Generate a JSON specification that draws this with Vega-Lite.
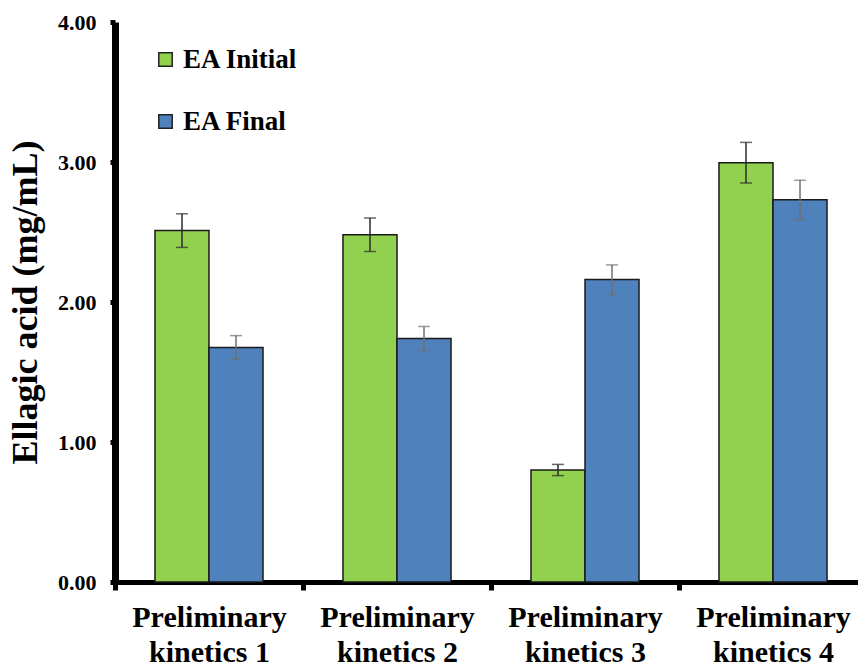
{
  "$schema": "https://vega.github.io/schema/vega-lite/v6.json",
  "width": 743,
  "height": 560,
  "autosize": "none",
  "padding": {"left": 115, "top": 22, "right": 0, "bottom": 86},
  "background": "white",
  "config": {
    "view": {"stroke": null},
    "font": "Times New Roman, Liberation Serif, serif",
    "axis": {"labelFont": "Times New Roman, Liberation Serif, serif", "titleFont": "Times New Roman, Liberation Serif, serif", "labelColor": "#000", "titleColor": "#000"},
    "legend": {"labelFont": "Times New Roman, Liberation Serif, serif"}
  },
  "data": {
    "values": [
      {"cat": "Preliminary kinetics 1", "series": "EA Initial", "value": 2.51, "lo": 2.39, "hi": 2.63},
      {"cat": "Preliminary kinetics 1", "series": "EA Final", "value": 1.675, "lo": 1.59, "hi": 1.76},
      {"cat": "Preliminary kinetics 2", "series": "EA Initial", "value": 2.48, "lo": 2.36, "hi": 2.6},
      {"cat": "Preliminary kinetics 2", "series": "EA Final", "value": 1.74, "lo": 1.655, "hi": 1.825},
      {"cat": "Preliminary kinetics 3", "series": "EA Initial", "value": 0.8, "lo": 0.76, "hi": 0.84},
      {"cat": "Preliminary kinetics 3", "series": "EA Final", "value": 2.16, "lo": 2.055, "hi": 2.265},
      {"cat": "Preliminary kinetics 4", "series": "EA Initial", "value": 2.995, "lo": 2.85, "hi": 3.14},
      {"cat": "Preliminary kinetics 4", "series": "EA Final", "value": 2.73, "lo": 2.59, "hi": 2.87}
    ]
  },
  "encoding": {
    "x": {
      "field": "cat", "type": "nominal", "sort": null,
      "scale": {"range": [0, 752], "paddingInner": 0, "paddingOuter": 0},
      "axis": {
        "title": null,
        "labelAngle": 0,
        "tickBand": "extent",
        "labelExpr": "[substring(datum.label, 0, 11), substring(datum.label, 12)]",
        "labelFont": "Times New Roman, Liberation Serif, serif",
        "labelFontSize": 30,
        "labelFontWeight": "bold",
        "labelLineHeight": 35,
        "labelPadding": 12,
        "labelBaseline": "top",
        "domainColor": "#000",
        "domainWidth": 5,
        "tickColor": "#000",
        "tickWidth": 5,
        "tickSize": 8,
        "grid": false
      }
    },
    "xOffset": {
      "field": "series", "type": "nominal", "sort": ["EA Initial", "EA Final"],
      "scale": {"paddingInner": 0, "paddingOuter": 0.74}
    }
  },
  "layer": [
    {
      "mark": {"type": "bar", "stroke": "#1a1a1a", "strokeWidth": 1.5},
      "encoding": {
        "y": {
          "field": "value", "type": "quantitative",
          "scale": {"domain": [0, 4], "nice": false},
          "axis": {
            "title": "Ellagic acid (mg/mL)",
            "titleFont": "Times New Roman, Liberation Serif, serif",
            "titleFontSize": 36,
            "titleFontWeight": "bold",
            "titlePadding": 13,
            "values": [0, 1, 2, 3, 4],
            "format": ".2f",
            "labelFont": "Times New Roman, Liberation Serif, serif",
            "labelFontSize": 22,
            "labelFontWeight": "bold",
            "labelPadding": 14,
            "domainColor": "#000",
            "domainWidth": 7,
            "tickColor": "#000",
            "tickWidth": 5,
            "tickSize": 5,
            "grid": false
          }
        },
        "color": {
          "field": "series", "type": "nominal",
          "scale": {"domain": ["EA Initial", "EA Final"], "range": ["#92D050", "#4F81BD"]},
          "legend": {
            "title": null,
            "orient": "none",
            "legendX": 37,
            "legendY": 24,
            "symbolType": "square",
            "symbolSize": 180,
            "symbolStrokeColor": "#222",
            "symbolStrokeWidth": 1.5,
            "symbolOpacity": 1,
            "labelFont": "Times New Roman, Liberation Serif, serif",
            "labelFontSize": 27,
            "labelFontWeight": "bold",
            "labelColor": "#000",
            "labelOffset": 4,
            "rowPadding": 34
          }
        }
      }
    },
    {
      "mark": {"type": "rule", "strokeWidth": 1.5},
      "encoding": {
        "y": {"field": "lo", "type": "quantitative"},
        "y2": {"field": "hi"},
        "color": {"condition": {"test": "datum.series == 'EA Initial'", "value": "#2b2b2b"}, "value": "#707070"}
      }
    },
    {
      "mark": {"type": "tick", "size": 12, "thickness": 1.5},
      "encoding": {
        "y": {"field": "lo", "type": "quantitative"},
        "color": {"condition": {"test": "datum.series == 'EA Initial'", "value": "#2b2b2b"}, "value": "#707070"}
      }
    },
    {
      "mark": {"type": "tick", "size": 12, "thickness": 1.5},
      "encoding": {
        "y": {"field": "hi", "type": "quantitative"},
        "color": {"condition": {"test": "datum.series == 'EA Initial'", "value": "#2b2b2b"}, "value": "#707070"}
      }
    }
  ]
}
